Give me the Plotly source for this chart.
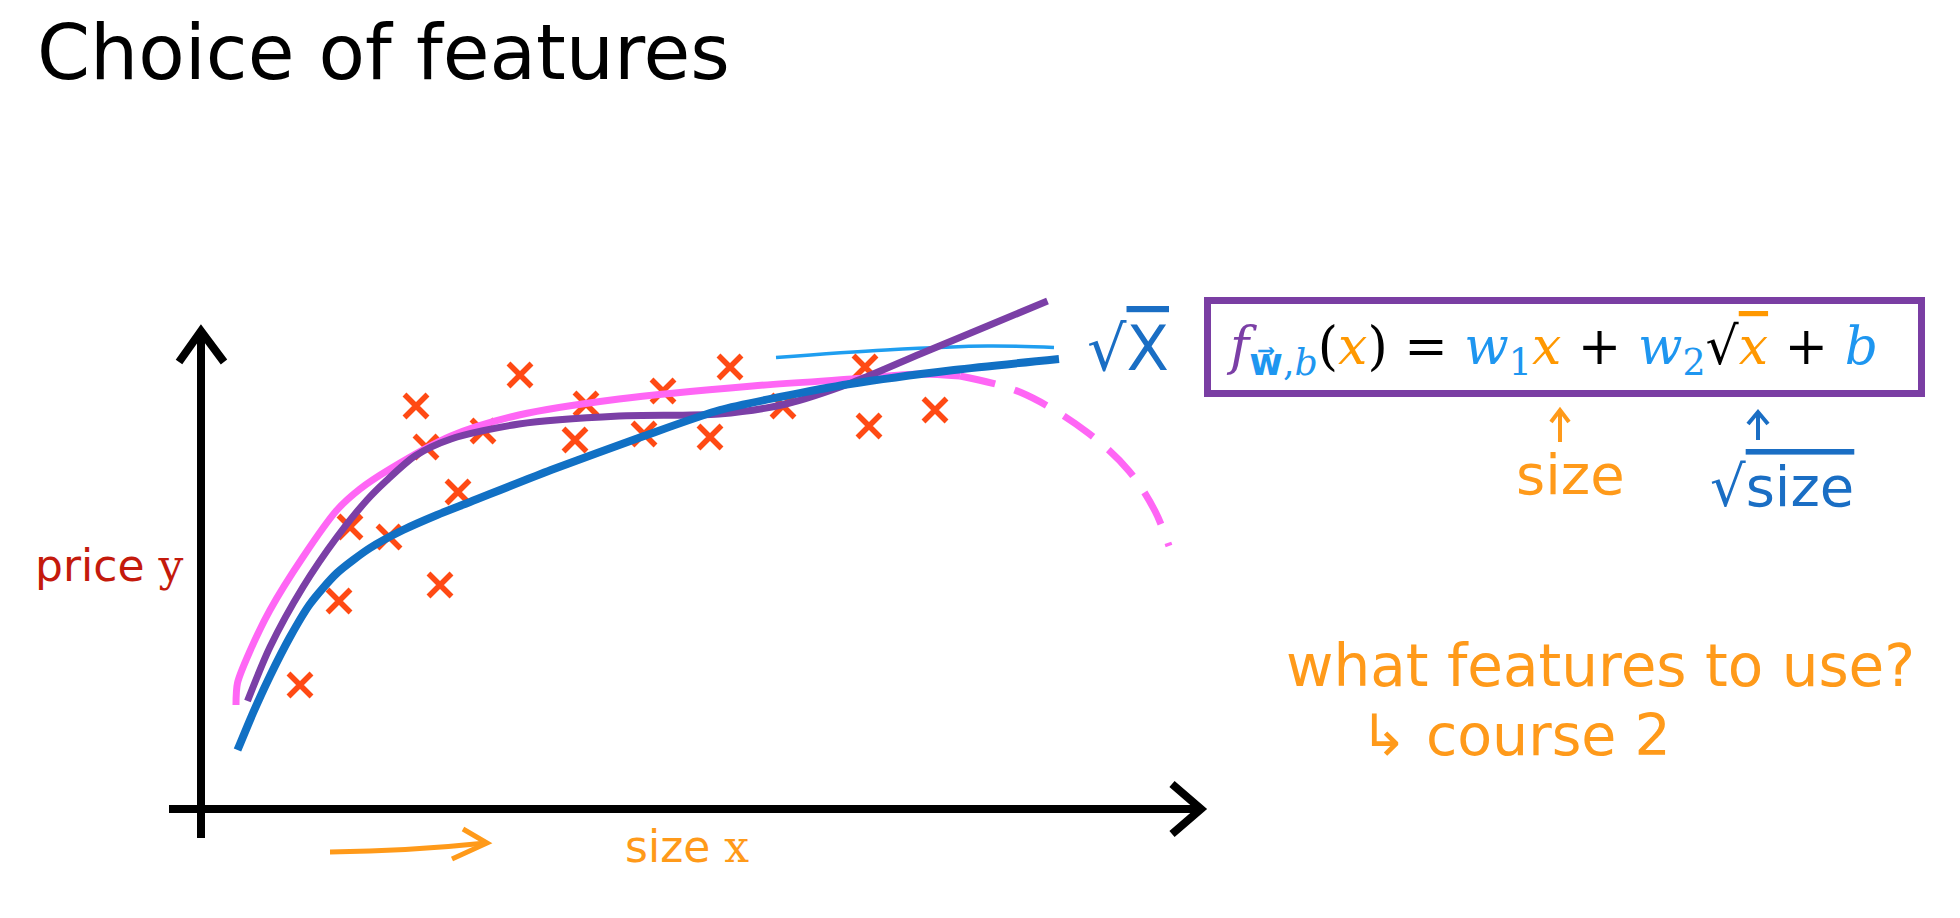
import plotly.graph_objects as go

# ---------------- data (house size x vs price y) ----------------
size_x = [10.0, 13.9, 15.0, 18.9, 24.0, 21.6, 22.6, 25.8, 28.3, 32.0,
          37.5, 38.6, 44.4, 46.3, 51.0, 53.0, 58.3, 66.5, 66.9, 73.5]
price_y = [12.4, 20.8, 28.2, 27.2, 22.4, 40.3, 36.2, 31.7, 37.8, 43.4,
           36.9, 40.5, 37.5, 41.8, 37.2, 44.2, 40.3, 44.2, 38.3, 39.9]

# blue fit  f(x) = w1*x + w2*sqrt(x) + b
sqrt_fit_x = [3.75, 5.3, 7.0, 9.0, 11.0, 13.7, 17.0, 20.3, 23.7, 27.0,
              35.1, 44.4, 52.0, 58.0, 65.0, 75.4, 85.9]
sqrt_fit_y = [5.9, 9.6, 13.3, 17.2, 20.5, 23.6, 26.1, 27.9, 29.4, 30.7,
              33.9, 37.3, 39.9, 41.2, 42.5, 43.9, 45.0]

# pink fit (solid part, then dashed continuation)
quad_fit_x = [3.6, 3.75, 5.0, 7.0, 10.3, 13.7, 16.0, 19.0, 25.1, 31.9,
              41.9, 55.25, 65.25, 72.0, 76.0]
quad_fit_y = [10.4, 12.6, 15.8, 19.9, 25.2, 29.9, 32.0, 34.0, 37.3, 39.4,
              41.0, 42.3, 43.0, 43.5, 43.3]
quad_ext_x = [76.0, 82.1, 88.75, 92.9, 95.5, 96.9]
quad_ext_y = [43.3, 41.65, 37.65, 33.8, 29.8, 26.3]

# purple fit
cubic_fit_x = [4.75, 7.0, 10.3, 13.7, 16.7, 18.6, 21.5, 25.1, 31.9, 41.9,
               51.9, 58.6, 65.25, 72.0, 78.75, 84.75]
cubic_fit_y = [10.8, 16.2, 22.2, 27.2, 30.9, 32.8, 35.3, 37.0, 38.5, 39.3,
               39.5, 40.5, 42.65, 45.5, 48.3, 50.8]

# light-blue hand-drawn sqrt(x) sketch
sqrt_sketch_x = [57.6, 68.6, 78.75, 85.4]
sqrt_sketch_y = [45.15, 45.9, 46.3, 46.15]

# ---------------- helpers: slide pixel -> data units (1 unit = 10 px) ----------------
W, H = 1960, 918
OX, OY = 200, 809


def X(px):
    return (px - OX) / 10.0


def Y(py):
    return (OY - py) / 10.0


ORANGE = "#ff9a1a"
HAND_BLUE = "#1a6ec4"
FORM_BLUE = "#1e96f0"
PURPLE = "#7b3fa6"
HAND_FONT = "DejaVu Sans"

fig = go.Figure()

fig.add_trace(go.Scatter(x=sqrt_sketch_x, y=sqrt_sketch_y, mode="lines",
                         line=dict(color="#1f9ef0", width=3.5, shape="spline"),
                         hoverinfo="skip"))
fig.add_trace(go.Scatter(x=size_x, y=price_y, mode="markers",
                         marker=dict(symbol="x-thin", size=23, color="#ff4a14",
                                     line=dict(color="#ff4a14", width=5.5)),
                         hoverinfo="skip"))
fig.add_trace(go.Scatter(x=quad_fit_x, y=quad_fit_y, mode="lines",
                         line=dict(color="#ff66f5", width=7, shape="spline", smoothing=0.8),
                         hoverinfo="skip"))
fig.add_trace(go.Scatter(x=quad_ext_x, y=quad_ext_y, mode="lines",
                         line=dict(color="#ff66f5", width=7, shape="spline", dash="36px,20px"),
                         hoverinfo="skip"))
fig.add_trace(go.Scatter(x=cubic_fit_x, y=cubic_fit_y, mode="lines",
                         line=dict(color=PURPLE, width=7, shape="spline", smoothing=0.8),
                         hoverinfo="skip"))
fig.add_trace(go.Scatter(x=sqrt_fit_x, y=sqrt_fit_y, mode="lines",
                         line=dict(color="#1170c4", width=8, shape="spline", smoothing=0.7),
                         hoverinfo="skip"))

shapes = []
# axes with open arrowheads
shapes.append(dict(type="line", x0=0.1, y0=Y(838), x1=0.1, y1=Y(333),
                   line=dict(color="black", width=8)))
shapes.append(dict(type="path", path=f"M {X(179)},{Y(362)} L {X(201)},{Y(331)} L {X(224)},{Y(362)}",
                   line=dict(color="black", width=8)))
shapes.append(dict(type="line", x0=X(169), y0=0, x1=X(1199), y1=0,
                   line=dict(color="black", width=8)))
shapes.append(dict(type="path", path=f"M {X(1172)},{Y(784)} L {X(1201)},{Y(809)} L {X(1172)},{Y(834)}",
                   line=dict(color="black", width=8)))
# small orange arrow under the x axis
shapes.append(dict(type="path",
                   path=f"M {X(330)},{Y(852)} Q {X(410)},{Y(851)} {X(486)},{Y(843)}",
                   line=dict(color=ORANGE, width=5)))
shapes.append(dict(type="path",
                   path=f"M {X(463)},{Y(829)} L {X(487)},{Y(843)} L {X(452)},{Y(859)}",
                   line=dict(color=ORANGE, width=5)))
# formula box
shapes.append(dict(type="rect", x0=X(1207.5), y0=Y(393.5), x1=X(1921.5), y1=Y(300.5),
                   line=dict(color="#7a3ea3", width=7)))
# small up arrows under the formula
shapes.append(dict(type="path", path=f"M {X(1560)},{Y(442)} L {X(1560)},{Y(411)}",
                   line=dict(color=ORANGE, width=4)))
shapes.append(dict(type="path", path=f"M {X(1551)},{Y(422)} L {X(1560)},{Y(410)} L {X(1569)},{Y(422)}",
                   line=dict(color=ORANGE, width=4)))
shapes.append(dict(type="path", path=f"M {X(1758)},{Y(440)} L {X(1758)},{Y(413)}",
                   line=dict(color=HAND_BLUE, width=4)))
shapes.append(dict(type="path", path=f"M {X(1748)},{Y(424)} L {X(1758)},{Y(412)} L {X(1768)},{Y(424)}",
                   line=dict(color=HAND_BLUE, width=4)))

ann = []
ann.append(dict(x=X(35), y=Y(52), text="Choice of features", showarrow=False,
                xanchor="left", yanchor="middle",
                font=dict(family="DejaVu Sans", size=76, color="black")))
ann.append(dict(x=X(33), y=Y(565),
                text="price <span style=\"font-family:'DejaVu Serif'\">y</span>",
                showarrow=False, xanchor="left", yanchor="middle",
                font=dict(family="DejaVu Sans", size=44, color="#c41a0c")))
ann.append(dict(x=X(623), y=Y(846),
                text="size <span style=\"font-family:'DejaVu Serif'\">x</span>",
                showarrow=False, xanchor="left", yanchor="middle",
                font=dict(family="DejaVu Sans", size=44, color=ORANGE)))

formula = (f"<span style='color:{PURPLE}'><i>f</i></span>"
           f"<sub><span style='color:{FORM_BLUE}'>"
           f"<span style=\"font-family:'DejaVu Sans'\"><b>w\u20d7</b></span>,<i>b</i></span></sub>"
           f"(<span style='color:#ff9800'><i>x</i></span>) = "
           f"<span style='color:{FORM_BLUE}'><i>w</i><sub>1</sub></span>"
           f"<span style='color:#ff9800'><i>x</i></span> + "
           f"<span style='color:{FORM_BLUE}'><i>w</i><sub>2</sub></span>√"
           f"<span style='color:#ff9800;text-decoration:overline'><i>x</i></span> + "
           f"<span style='color:{FORM_BLUE}'><i>b</i></span>")
ann.append(dict(x=X(1552), y=Y(350), text=formula, showarrow=False,
                xanchor="center", yanchor="middle",
                font=dict(family="DejaVu Serif", size=52, color="black")))

ann.append(dict(x=X(1085), y=Y(348),
                text="√<span style='text-decoration:overline'>X</span>",
                showarrow=False, xanchor="left", yanchor="middle",
                font=dict(family=HAND_FONT, size=62, color=HAND_BLUE)))
ann.append(dict(x=X(1570), y=Y(474), text="size", showarrow=False,
                xanchor="center", yanchor="middle",
                font=dict(family=HAND_FONT, size=56, color=ORANGE)))
ann.append(dict(x=X(1708), y=Y(486),
                text="√<span style='text-decoration:overline'>size</span>",
                showarrow=False, xanchor="left", yanchor="middle",
                font=dict(family=HAND_FONT, size=56, color=HAND_BLUE)))
ann.append(dict(x=X(1284), y=Y(666), text="what features to use?", showarrow=False,
                xanchor="left", yanchor="middle",
                font=dict(family=HAND_FONT, size=58, color=ORANGE)))
ann.append(dict(x=X(1358), y=Y(735), text="↳ course 2", showarrow=False,
                xanchor="left", yanchor="middle",
                font=dict(family=HAND_FONT, size=57, color=ORANGE)))

fig.update_layout(
    width=W, height=H, autosize=False,
    margin=dict(l=0, r=0, t=0, b=0, pad=0),
    paper_bgcolor="white", plot_bgcolor="white",
    showlegend=False,
    shapes=shapes, annotations=ann,
    xaxis=dict(range=[X(0), X(W)], visible=False, fixedrange=True),
    yaxis=dict(range=[Y(H), Y(0)], visible=False, fixedrange=True),
)

fig.write_html("out.html", config={"displayModeBar": False},
               post_script="document.body.style.margin='0';document.body.style.overflow='hidden';")
